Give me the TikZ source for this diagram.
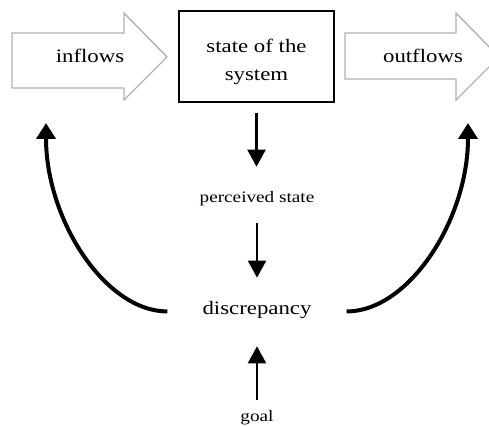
\documentclass[tikz,border=0pt]{standalone}
\usepackage{fontspec}
\setmainfont{Liberation Serif}
\usetikzlibrary{arrows.meta}

% slightly wide lettering
\newcommand{\wide}[1]{\scalebox{1.2}[1]{#1}}

\begin{document}
\begin{tikzpicture}[x=1pt,y=1pt,
  flowarrow/.style={draw=gray!60, line width=1.4pt, fill=white, line join=miter},
  sysbox/.style={draw=black, line width=2.2pt, minimum width=155pt, minimum height=91pt, inner sep=0pt},
  bigtxt/.style={font=\fontsize{19}{28}\selectfont, inner sep=0pt, anchor=base},
  smalltxt/.style={font=\fontsize{16}{20}\selectfont, inner sep=0pt, anchor=base},
  straightarr/.style={line width=2.2pt, -{Triangle[width=18pt,length=17pt]}},
  loopback/.style={line width=4pt, -{Triangle[width=19pt,length=16pt]}}
]
\useasboundingbox (0,0) rectangle (489,426);
\clip (0,0) rectangle (489,426);

% inflow and outflow block arrows
\draw[flowarrow] (12,393) -- (124,393) -- (124,413) -- (167,369) -- (124,326) -- (124,338) -- (12,338) -- cycle;
\draw[flowarrow] (345,393) -- (456,393) -- (456,413) -- (499,369) -- (456,326) -- (456,347) -- (345,347) -- cycle;
\node[bigtxt] (in) at (90,363) {\wide{inflows}};
\node[bigtxt] (out) at (423,363) {\wide{outflows}};

% the stock
\node[sysbox] (state) at (256.5,369.5) {};
\node[bigtxt, anchor=center, align=center] (statetxt) at ([yshift=-5pt]state.center) {\wide{state of the}\\\wide{system}};

% feedback chain
\node[smalltxt] (perc) at (257,223) {\wide{perceived state}};
\node[bigtxt] (disc) at (257,112) {\wide{discrepancy}};
\node[smalltxt] (goal) at (257,4.5) {\wide{goal}};

\draw[straightarr, shorten <=10pt, shorten >=25pt] (state.south) -- (state.south |- perc.north);
\draw[straightarr, shorten <=16pt, shorten >=23pt] (perc.south) -- (perc.south |- disc.north);
\draw[straightarr, shorten <=10.5pt, shorten >=28pt] (goal.north) -- (goal.north |- disc.south);

% corrective actions back to the flows
\coordinate (inret) at (46,303);
\coordinate (outret) at (468,303);
\draw[loopback] ([xshift=-35pt,yshift=-2pt]disc.west) .. controls +(-62,0) and +(0,-97) .. (inret);
\draw[loopback] ([xshift=35pt,yshift=-2pt]disc.east) .. controls +(62,0) and +(0,-97) .. (outret);
\end{tikzpicture}
\end{document}
